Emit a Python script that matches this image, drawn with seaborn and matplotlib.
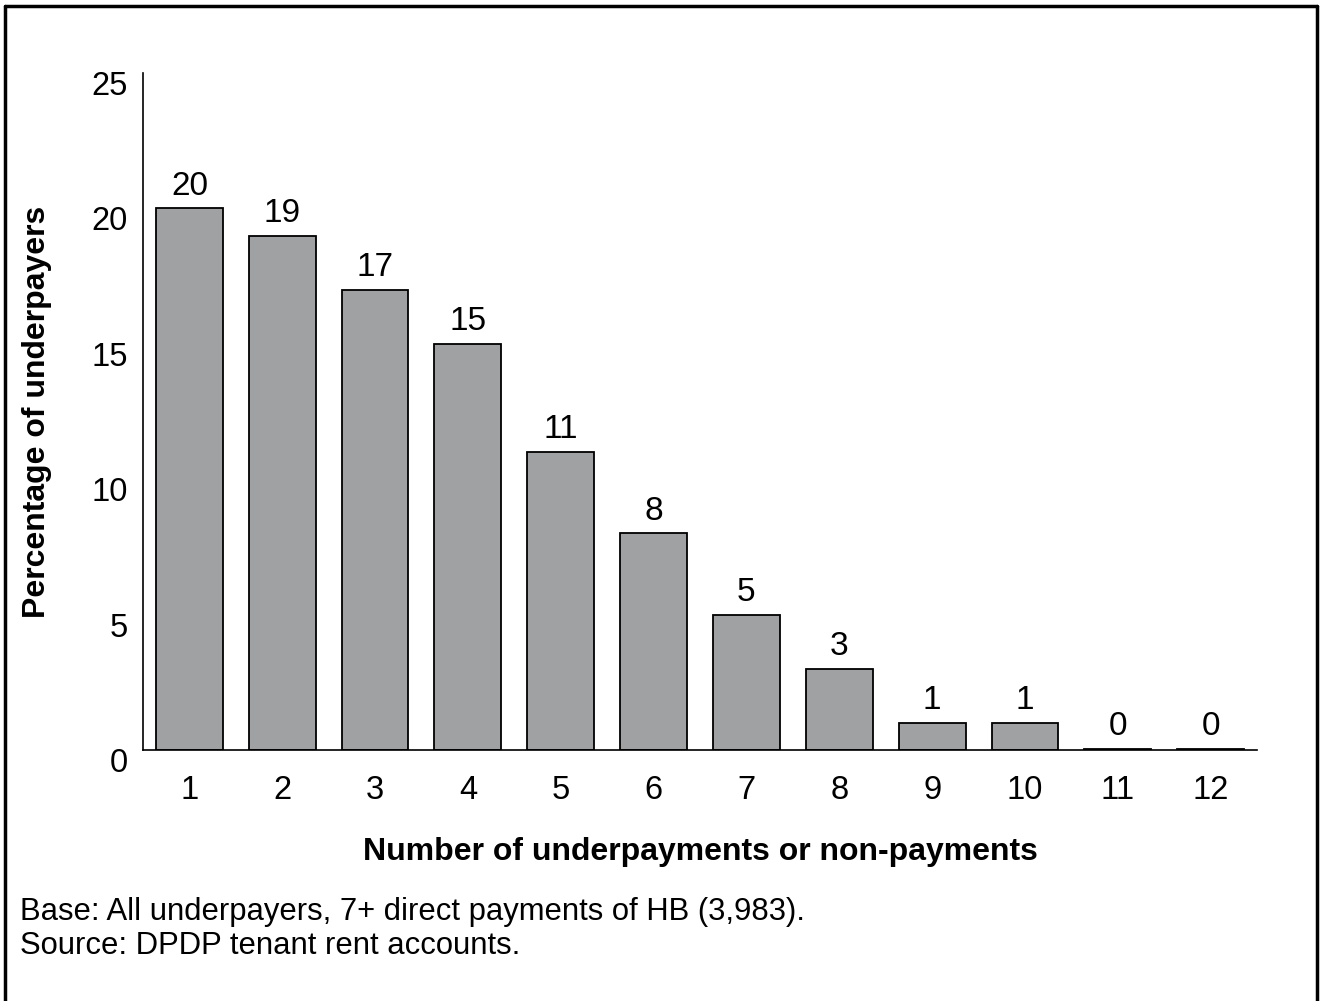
import matplotlib.pyplot as plt
import matplotlib.transforms as mtransforms
import seaborn as sns
import pandas as pd
from matplotlib.lines import Line2D

# ===== Data =====
payments = ["1", "2", "3", "4", "5", "6", "7", "8", "9", "10", "11", "12"]
percent = [20, 19, 17, 15, 11, 8, 5, 3, 1, 1, 0.04, 0.04]
labels = ["20", "19", "17", "15", "11", "8", "5", "3", "1", "1", "0", "0"]
yticks = [0, 5, 10, 15, 20, 25]

df = pd.DataFrame({"payments": payments, "percent": percent})

# ===== Style =====
sns.set_theme(style="white")
plt.rcParams['font.family'] = ['Liberation Sans', 'DejaVu Sans']

fig = plt.figure(figsize=(13.2, 10.01), dpi=100)
ax = fig.add_axes([0.1083, 0.2507, 0.8440, 0.6763])

sns.barplot(data=df, x="payments", y="percent", order=payments,
            color="#a0a1a3", saturation=1, edgecolor="black",
            linewidth=1.3, width=0.72, ax=ax)

# value labels above bars
for i, (v, lab) in enumerate(zip(percent, labels)):
    ax.text(i, v + 0.25, lab, ha="center", va="bottom", fontsize=24, color="black")

ax.set_xlim(-0.5, 11.5)
ax.set_ylim(0, 25)
ax.set_yticks(yticks)
ax.set_yticklabels([str(t) for t in yticks])
ax.tick_params(axis="both", length=0, labelsize=23.5, colors="black")
ax.tick_params(axis="y", pad=11)
ax.tick_params(axis="x", pad=18)

# y tick labels sit a little below their gridline positions in the original
offset = mtransforms.ScaledTranslation(0, -10 / 100, fig.dpi_scale_trans)
for lab in ax.get_yticklabels():
    lab.set_transform(lab.get_transform() + offset)

ax.set_xlabel("Number of underpayments or non-payments", fontsize=23,
              fontweight="bold", labelpad=22, color="black")
ax.set_ylabel("Percentage of underpayers", fontsize=23,
              fontweight="bold", labelpad=28, color="black")

for side in ["top", "right"]:
    ax.spines[side].set_visible(False)
for side in ["left", "bottom"]:
    ax.spines[side].set_color("black")
    ax.spines[side].set_linewidth(1.2)

# footnotes
fig.text(20 / 1320, 1 - 912 / 1001, "Base: All underpayers, 7+ direct payments of HB (3,983).",
         fontsize=22.3, va="center", ha="left", color="black")
fig.text(20 / 1320, 1 - 946 / 1001, "Source: DPDP tenant rent accounts.",
         fontsize=22.3, va="center", ha="left", color="black")

# frame around figure (top, left, right)
x0, x1, y1 = 5 / 1320, 1317 / 1320, 1 - 6 / 1001
for xs, ys in [([x0, x1], [y1, y1]), ([x0, x0], [y1, -0.01]), ([x1, x1], [y1, -0.01])]:
    fig.add_artist(Line2D(xs, ys, transform=fig.transFigure, color="black", linewidth=2.5))

fig.savefig("out.png", dpi=100)
